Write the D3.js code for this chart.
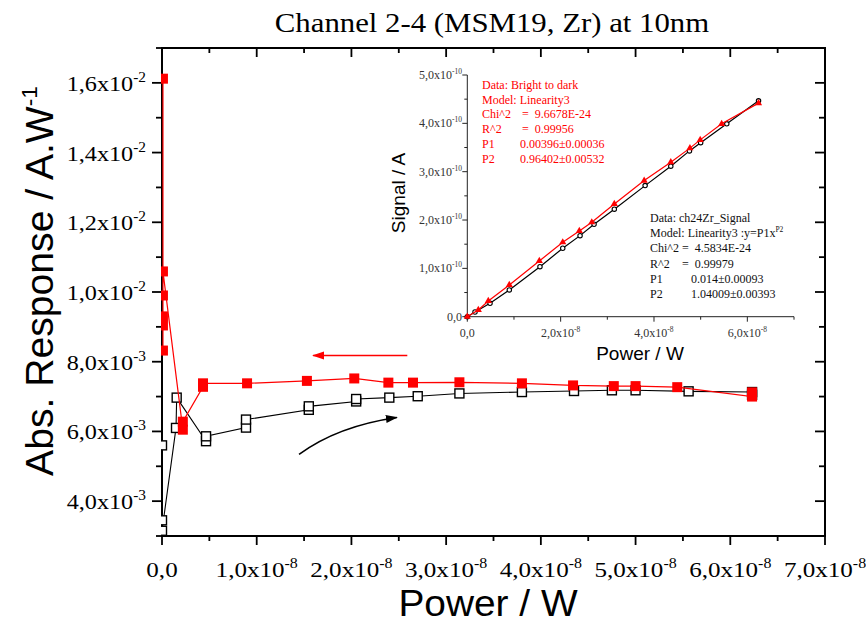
<!DOCTYPE html>
<html><head><meta charset="utf-8">
<script src="https://cdn.jsdelivr.net/npm/d3@7"></script>
<style>body{margin:0;background:#fff} svg{display:block}</style>
</head><body><svg id="c" width="866" height="623"></svg>
<script>
// ---------- DATA ----------
const titleText = "Channel 2-4 (MSM19, Zr) at 10nm";
const xLabel = "Power / W";
const yLabel = "Abs. Response / A.W";
const yLabelSup = "-1";
const insetXLabel = "Power / W";
const insetYLabel = "Signal / A";

const mainXTicks = [0, 1e-8, 2e-8, 3e-8, 4e-8, 5e-8, 6e-8, 7e-8];
const mainYTicks = [4e-3, 6e-3, 8e-3, 1.0e-2, 1.2e-2, 1.4e-2, 1.6e-2];
const insetXTicks = [0, 2e-8, 4e-8, 6e-8];
const insetYTicks = [0, 1e-10, 2e-10, 3e-10, 4e-10, 5e-10];

// dark -> bright sweep (open black squares)
const blackX = [0, 0, 0, 1.48e-9, 1.55e-9, 4.65e-9, 4.65e-9, 8.87e-9, 8.87e-9, 1.55e-8, 1.55e-8, 2.05e-8, 2.05e-8, 2.4e-8, 2.7e-8, 3.14e-8, 3.8e-8, 4.35e-8, 4.75e-8, 5.0e-8, 5.56e-8, 6.23e-8, 6.23e-8];
const blackY = [5.6e-3, 3.45e-3, 3.15e-3, 6.1e-3, 6.97e-3, 5.72e-3, 5.86e-3, 6.11e-3, 6.34e-3, 6.62e-3, 6.72e-3, 6.86e-3, 6.93e-3, 6.97e-3, 7.01e-3, 7.09e-3, 7.13e-3, 7.16e-3, 7.18e-3, 7.18e-3, 7.15e-3, 7.13e-3, 7.05e-3];
// bright -> dark sweep (filled red squares)
const redX = [6.23e-8, 6.23e-8, 5.44e-8, 5.0e-8, 4.77e-8, 4.34e-8, 3.8e-8, 3.14e-8, 2.65e-8, 2.39e-8, 2.03e-8, 1.53e-8, 8.98e-9, 4.33e-9, 4.33e-9, 2.2e-9, 2.2e-9, 1e-10, 1e-10, 1e-10, 1e-10, 1e-10, 1e-10];
const redY = [7.12e-3, 7.0e-3, 7.27e-3, 7.30e-3, 7.30e-3, 7.32e-3, 7.38e-3, 7.41e-3, 7.40e-3, 7.40e-3, 7.52e-3, 7.45e-3, 7.38e-3, 7.38e-3, 7.28e-3, 6.28e-3, 6.05e-3, 1.059e-2, 1.612e-2, 9.9e-3, 9.3e-3, 9.04e-3, 8.32e-3];

// inset: signal vs power
const insetBlackX = [0, 1.65e-9, 4.87e-9, 9.0e-9, 1.557e-8, 2.045e-8, 2.416e-8, 2.716e-8, 3.15e-8, 3.81e-8, 4.36e-8, 4.76e-8, 5.0e-8, 5.56e-8, 6.24e-8];
const insetBlackY = [0, 0.097e-10, 0.277e-10, 0.553e-10, 1.035e-10, 1.416e-10, 1.677e-10, 1.913e-10, 2.224e-10, 2.712e-10, 3.114e-10, 3.43e-10, 3.6e-10, 3.99e-10, 4.466e-10];
const insetRedX = [0, 2.36e-9, 4.5e-9, 9.0e-9, 1.543e-8, 2.045e-8, 2.4e-8, 2.667e-8, 3.15e-8, 3.79e-8, 4.36e-8, 4.77e-8, 4.99e-8, 5.45e-8, 6.24e-8];
const insetRedY = [0, 0.139e-10, 0.325e-10, 0.656e-10, 1.153e-10, 1.54e-10, 1.774e-10, 1.954e-10, 2.333e-10, 2.816e-10, 3.197e-10, 3.487e-10, 3.658e-10, 3.99e-10, 4.418e-10];

// fit report texts
const redFitLabels = ["Data: Bright to dark", "Model: Linearity3", "Chi^2", "R^2", "P1", "P2"];
const redFitValues = ["", "", "=  9.6678E-24", "=  0.99956", "0.00396\u00b10.00036", "0.96402\u00b10.00532"];
const blackFitLabels = ["Data: ch24Zr_Signal", "Model: Linearity3 :y=P1x", "Chi^2", "R^2", "P1", "P2"];
const blackFitValues = ["", "", "=  4.5834E-24", "=  0.99979", "0.014\u00b10.00093", "1.04009\u00b10.00393"];
const blackModelSup = "P2";

// sweep direction arrows (data coordinates)
const redArrow = [2.59e-8, 8.18e-3, 1.595e-8, 8.18e-3];            // start x,y  end x,y
const blackArrow = [1.447e-8, 5.34e-3, 1.85e-8, 6.15e-3, 2.48e-8, 6.4e-3]; // start, control, end

// ---------- DRAW ----------
const svg = d3.select("#c");
const SERIF = "'Liberation Serif','Times New Roman',serif";
const SANS = "'Liberation Sans',Arial,sans-serif";
const RED = "#ff0000";

// place text at (px,py) with horizontal glyph stretch k
function placeText(sel, px, py, k, rot) {
  sel.attr("x", 0).attr("y", 0)
    .attr("transform", `translate(${px},${py})` + (rot ? ` rotate(${rot})` : "") + ` scale(${k},1)`);
  return sel;
}

const L = 162, R = 825, T = 48, B = 536;
const x = d3.scaleLinear().domain([0, 7e-8]).range([L, R]);
const y = d3.scaleLinear().domain([3e-3, 1.7e-2]).range([B, T]);

function sciParts(v) {
  if (v === 0) return ["0,0", null];
  const e = Math.floor(Math.log10(v) + 1e-9);
  const m = v / Math.pow(10, e);
  return [m.toFixed(1).replace(".", ",") + "x10", String(e)];
}
function sciText(g, v, supFs, supDy) {
  const [m, e] = sciParts(v);
  g.append("tspan").text(m);
  if (e !== null) g.append("tspan").attr("font-size", supFs).attr("dy", supDy).text(e);
}

// title
placeText(svg.append("text").attr("text-anchor", "middle")
  .attr("font-family", SERIF).attr("font-size", 28).text(titleText), 492, 32, 1.1);

// main frame
svg.append("rect").attr("x", L).attr("y", T).attr("width", R - L).attr("height", B - T)
  .attr("fill", "none").attr("stroke", "#000").attr("stroke-width", 2);

// main ticks
const tg = svg.append("g").attr("stroke", "#000").attr("stroke-width", 1.8);
const xMinor = d3.range(0.5e-8, 7e-8, 1e-8);
mainXTicks.forEach(t => {
  tg.append("line").attr("x1", x(t)).attr("x2", x(t)).attr("y1", B).attr("y2", B + 9);
  tg.append("line").attr("x1", x(t)).attr("x2", x(t)).attr("y1", T).attr("y2", T + 9);
});
xMinor.forEach(t => {
  tg.append("line").attr("x1", x(t)).attr("x2", x(t)).attr("y1", B).attr("y2", B + 5);
  tg.append("line").attr("x1", x(t)).attr("x2", x(t)).attr("y1", T).attr("y2", T + 5);
});
const yMinor = d3.range(3e-3, 1.75e-2, 2e-3);
mainYTicks.forEach(t => {
  tg.append("line").attr("x1", L - 10).attr("x2", L).attr("y1", y(t)).attr("y2", y(t));
  tg.append("line").attr("x1", R - 10).attr("x2", R).attr("y1", y(t)).attr("y2", y(t));
});
yMinor.forEach(t => {
  tg.append("line").attr("x1", L - 6).attr("x2", L).attr("y1", y(t)).attr("y2", y(t));
  tg.append("line").attr("x1", R - 6).attr("x2", R).attr("y1", y(t)).attr("y2", y(t));
});

// main tick labels
mainXTicks.forEach(t => {
  const tx = svg.append("text").attr("text-anchor", "middle")
    .attr("font-family", SERIF).attr("font-size", 22);
  sciText(tx, t, 14, -9);
  placeText(tx, x(t), 577, 1.14);
});
mainYTicks.forEach(t => {
  const tx = svg.append("text").attr("text-anchor", "end")
    .attr("font-family", SERIF).attr("font-size", 22);
  sciText(tx, t, 14, -9);
  placeText(tx, 146, y(t) + 8, 1.1);
});

// axis titles
placeText(svg.append("text").attr("text-anchor", "middle")
  .attr("font-family", SANS).attr("font-size", 37).text(xLabel), 488, 616, 1.05);
const yl = svg.append("text").attr("text-anchor", "middle").attr("font-family", SANS).attr("font-size", 38);
yl.append("tspan").text(yLabel);
yl.append("tspan").attr("font-size", 22).attr("dy", -16).text(yLabelSup);
placeText(yl, 53, 281, 1.03, -90);

// clip
svg.append("clipPath").attr("id", "mclip").append("rect")
  .attr("x", L - 1).attr("y", T).attr("width", R - L + 1).attr("height", B - T);
const plot = svg.append("g").attr("clip-path", "url(#mclip)");

const line = d3.line();
const bPts = blackX.map((v, i) => [x(v), y(blackY[i])]);
const rPts = redX.map((v, i) => [x(v), y(redY[i])]);

plot.append("path").attr("d", line(bPts)).attr("fill", "none").attr("stroke", "#000").attr("stroke-width", 1.1);
plot.selectAll(".bs").data(bPts).enter().append("rect")
  .attr("x", d => d[0] - 4.5).attr("y", d => d[1] - 4.5).attr("width", 9).attr("height", 9)
  .attr("fill", "#fff").attr("stroke", "#000").attr("stroke-width", 1.4);

plot.append("path").attr("d", line(rPts)).attr("fill", "none").attr("stroke", RED).attr("stroke-width", 1.2);
plot.selectAll(".rs").data(rPts).enter().append("rect")
  .attr("x", d => d[0] - 5).attr("y", d => d[1] - 5).attr("width", 10).attr("height", 10)
  .attr("fill", RED);

// arrows
const defs = svg.append("defs");
function marker(id, col) {
  defs.append("marker").attr("id", id).attr("viewBox", "0 0 12 10").attr("refX", 11).attr("refY", 5)
    .attr("markerWidth", 12).attr("markerHeight", 10).attr("markerUnits", "userSpaceOnUse")
    .attr("orient", "auto").append("path").attr("d", "M0,1 L12,5 L0,9 Z").attr("fill", col);
}
marker("ar", RED); marker("ab", "#000");
svg.append("line").attr("x1", x(redArrow[0])).attr("y1", y(redArrow[1]))
  .attr("x2", x(redArrow[2])).attr("y2", y(redArrow[3]))
  .attr("stroke", RED).attr("stroke-width", 1.6).attr("marker-end", "url(#ar)");
svg.append("path")
  .attr("d", `M${x(blackArrow[0])},${y(blackArrow[1])} Q${x(blackArrow[2])},${y(blackArrow[3])} ${x(blackArrow[4])},${y(blackArrow[5])}`)
  .attr("fill", "none").attr("stroke", "#000").attr("stroke-width", 1.6).attr("marker-end", "url(#ab)");

// ---------- INSET ----------
const iL = 467.3, iB = 316.7, iT = 75;
const ix = d3.scaleLinear().domain([0, 7e-8]).range([iL, 794]);
const iy = d3.scaleLinear().domain([0, 5e-10]).range([iB, iT]);
const ig = svg.append("g");
const AX = "#222";
ig.append("line").attr("x1", iL).attr("x2", iL).attr("y1", iT).attr("y2", iB).attr("stroke", AX).attr("stroke-width", 1);
ig.append("line").attr("x1", iL).attr("x2", 794).attr("y1", iB).attr("y2", iB).attr("stroke", AX).attr("stroke-width", 1);
d3.range(0, 7.01e-8, 1e-8).forEach((t, i) => {
  ig.append("line").attr("x1", ix(t)).attr("x2", ix(t)).attr("y1", iB).attr("y2", iB + (i % 2 === 0 ? 5 : 3))
    .attr("stroke", AX).attr("stroke-width", 1);
});
d3.range(0, 5.01e-10, 0.5e-10).forEach((t, i) => {
  ig.append("line").attr("x1", iL - (i % 2 === 0 ? 5 : 3)).attr("x2", iL).attr("y1", iy(t)).attr("y2", iy(t))
    .attr("stroke", AX).attr("stroke-width", 1);
});
insetXTicks.forEach(t => {
  const tx = ig.append("text").attr("x", ix(t)).attr("y", 337).attr("text-anchor", "middle")
    .attr("font-family", SERIF).attr("font-size", 12).attr("fill", "#333");
  sciText(tx, t, 7.5, -5);
});
insetYTicks.forEach(t => {
  const tx = ig.append("text").attr("x", 462).attr("y", iy(t) + 4).attr("text-anchor", "end")
    .attr("font-family", SERIF).attr("font-size", 12).attr("fill", "#333");
  sciText(tx, t, 7.5, -5);
});
ig.append("text").attr("x", 640).attr("y", 360).attr("text-anchor", "middle")
  .attr("font-family", SANS).attr("font-size", 19).text(insetXLabel);
ig.append("text").attr("transform", "translate(405,193) rotate(-90)").attr("text-anchor", "middle")
  .attr("font-family", SANS).attr("font-size", 19).text(insetYLabel);

const ibPts = insetBlackX.map((v, i) => [ix(v), iy(insetBlackY[i])]);
const irPts = insetRedX.map((v, i) => [ix(v), iy(insetRedY[i])]);
ig.append("path").attr("d", line(ibPts)).attr("fill", "none").attr("stroke", "#000").attr("stroke-width", 1.2);
ig.selectAll(".ic").data(ibPts).enter().append("circle")
  .attr("cx", d => d[0]).attr("cy", d => d[1]).attr("r", 2.2)
  .attr("fill", "#fff").attr("stroke", "#000").attr("stroke-width", 1.1);
ig.append("path").attr("d", line(irPts)).attr("fill", "none").attr("stroke", RED).attr("stroke-width", 1.2);
const tri = d3.symbol().type(d3.symbolTriangle).size(22);
ig.selectAll(".it").data(irPts).enter().append("path")
  .attr("transform", d => `translate(${d[0]},${d[1]})`).attr("d", tri).attr("fill", RED);

// fit reports
redFitLabels.forEach((s, i) => {
  const yy = 89 + i * 14.7;
  ig.append("text").attr("x", 482).attr("y", yy).attr("font-family", SERIF).attr("font-size", 12)
    .attr("fill", RED).text(s);
  if (redFitValues[i]) ig.append("text").attr("x", i < 4 ? 522 : 520).attr("y", yy)
    .attr("font-family", SERIF).attr("font-size", 12).attr("fill", RED)
    .style("white-space", "pre").text(redFitValues[i]);
});
blackFitLabels.forEach((s, i) => {
  const yy = 222 + i * 15.2;
  const t = ig.append("text").attr("x", 650).attr("y", yy).attr("font-family", SERIF).attr("font-size", 12)
    .attr("fill", "#111");
  t.append("tspan").text(s);
  if (i === 1) t.append("tspan").attr("font-size", 7.5).attr("dy", -5).text(blackModelSup);
  if (blackFitValues[i]) ig.append("text").attr("x", i < 4 ? 682 : 691).attr("y", yy)
    .attr("font-family", SERIF).attr("font-size", 12).attr("fill", "#111")
    .style("white-space", "pre").text(blackFitValues[i]);
});
</script></body></html>
